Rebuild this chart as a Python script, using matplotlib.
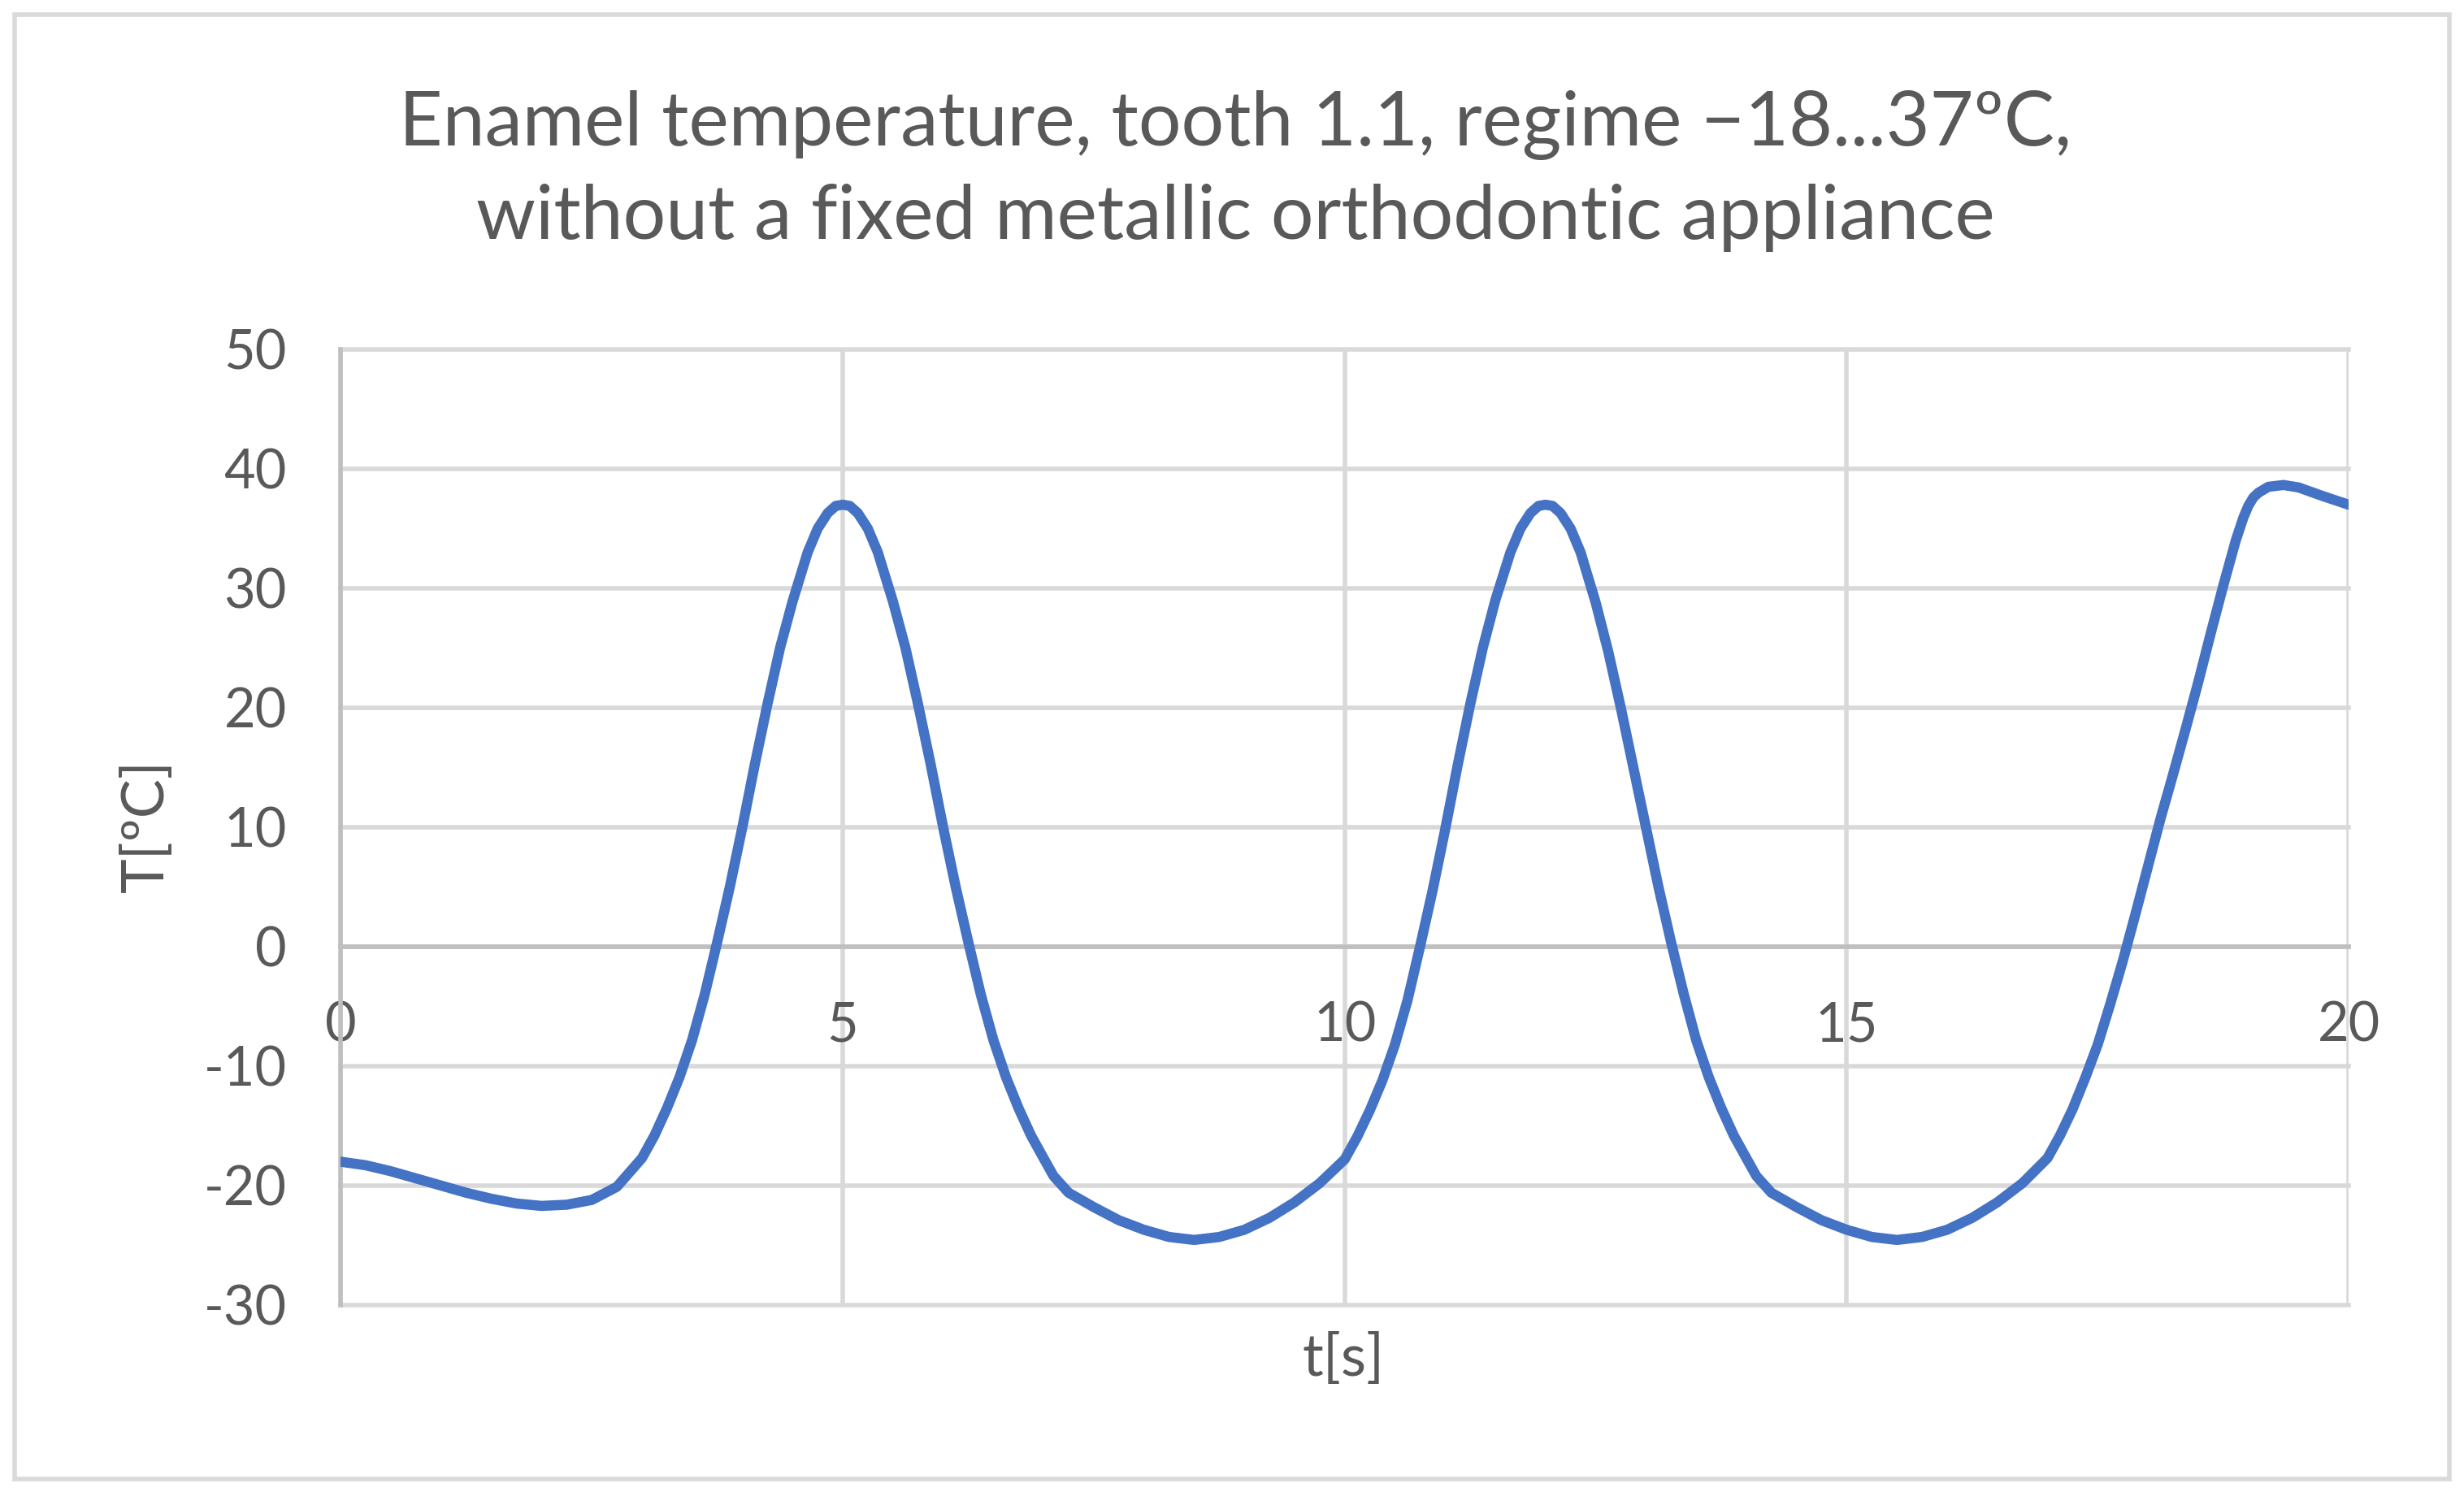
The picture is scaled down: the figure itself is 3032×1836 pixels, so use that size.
import matplotlib
matplotlib.use("Agg")
import matplotlib.pyplot as plt
from matplotlib.patches import Rectangle

plt.rcParams['font.family'] = ['Lato', 'DejaVu Sans']
plt.rcParams['axes.unicode_minus'] = False

# time [s] and enamel temperature [C]
t_s = [0.0, 0.25, 0.5, 0.75, 1.0, 1.25, 1.5, 1.75, 2.0, 2.25, 2.5, 2.75, 3.0,
       3.125, 3.25, 3.375, 3.5, 3.625, 3.75, 3.875, 4.0, 4.125, 4.25, 4.375,
       4.5, 4.65, 4.75, 4.85, 4.93, 5.0,
       5.07, 5.15, 5.25, 5.35, 5.5, 5.625, 5.75, 5.875, 6.0, 6.125, 6.25,
       6.375, 6.5, 6.625, 6.75, 6.875, 7.0,
       7.1, 7.25, 7.5, 7.75, 8.0, 8.25, 8.5, 8.75, 9.0, 9.25, 9.5, 9.75, 10.0,
       10.125, 10.25, 10.375, 10.5, 10.625, 10.75, 10.875, 11.0, 11.125, 11.25,
       11.375, 11.5, 11.65, 11.75, 11.85, 11.93, 12.0,
       12.07, 12.15, 12.25, 12.35, 12.5, 12.625, 12.75, 12.875, 13.0, 13.125,
       13.25, 13.375, 13.5, 13.625, 13.75, 13.875, 14.0,
       14.1, 14.25, 14.5, 14.75, 15.0, 15.25, 15.5, 15.75, 16.0, 16.25, 16.5,
       16.75, 17.0,
       17.125, 17.25, 17.375, 17.5, 17.625, 17.75, 17.875, 18.0, 18.125, 18.25,
       18.375, 18.5, 18.625, 18.75, 18.875, 18.95, 19.0, 19.05,
       19.1, 19.2, 19.35, 19.5, 19.75, 20.0]
temp_c = [-18.0, -18.3, -18.8, -19.4, -20.0, -20.6, -21.1, -21.5, -21.7, -21.6,
          -21.2, -20.1, -17.7,
          -15.8, -13.5, -10.9, -7.8, -4.0, 0.4, 5.0, 10.0, 15.3, 20.3, 25.0,
          28.9, 33.0, 35.0, 36.3, 36.9, 37.0,
          36.9, 36.3, 35.0, 33.0, 28.9, 25.0, 20.3, 15.3, 10.0, 5.0, 0.4,
          -4.0, -7.8, -10.9, -13.5, -15.8, -17.7,
          -19.2, -20.6, -21.8, -22.9, -23.7, -24.3, -24.55, -24.3, -23.7, -22.7,
          -21.4, -19.8, -17.8,
          -15.9, -13.7, -11.2, -8.2, -4.5, 0.0, 4.7, 9.8, 15.2, 20.3,
          25.0, 29.0, 33.0, 35.0, 36.3, 36.9, 37.0,
          36.9, 36.3, 35.0, 33.0, 28.8, 24.7, 20.0, 15.0, 10.0, 5.0,
          0.4, -3.9, -7.8, -10.9, -13.5, -15.8, -17.7,
          -19.2, -20.6, -21.8, -22.9, -23.7, -24.3, -24.55, -24.3, -23.7, -22.7,
          -21.4, -19.8, -17.7,
          -15.8, -13.6, -11.0, -8.2, -4.8, -1.2, 2.7, 6.7, 10.7, 14.4,
          18.2, 22.1, 26.2, 30.2, 34.0, 35.9, 36.9, 37.6,
          38.0, 38.5, 38.65, 38.45, 37.7, 37.0]

x_ticks = [0, 5, 10, 15, 20]
y_ticks = [-30, -20, -10, 0, 10, 20, 30, 40, 50]

title = ("Enamel temperature, tooth 1.1, regime \u221218...37\u00baC,\n"
         "without a fixed metallic orthodontic appliance")
text_col = '#595959'
grid_col = '#D9D9D9'
axis_col = '#BFBFBF'

fig = plt.figure(figsize=(30.32, 18.36), dpi=100)
ax = fig.add_axes([0.1383, 0.1253, 0.8149, 0.6405])

ax.plot(t_s, temp_c, color='#4472C4', lw=9,
        solid_capstyle='round', solid_joinstyle='round', zorder=3)

ax.set_xlim(0, 20)
ax.set_ylim(-30, 50)
ax.set_xticks(x_ticks)
ax.set_yticks(y_ticks)
ax.grid(True, color=grid_col, lw=4)
ax.set_axisbelow(True)
for gl in ax.get_xgridlines() + ax.get_ygridlines():
    gl.set_clip_on(False)

ax.spines['top'].set_visible(False)
ax.spines['right'].set_visible(False)
ax.spines['bottom'].set_position(('data', 0))
ax.spines['bottom'].set_color(axis_col)
ax.spines['bottom'].set_linewidth(4)
ax.spines['left'].set_color(axis_col)
ax.spines['left'].set_linewidth(4)
ax.tick_params(length=0, labelsize=48, labelcolor=text_col)
ax.tick_params(axis='x', pad=48)
ax.tick_params(axis='y', pad=48)

fig.text(0.5013, 0.8855, title, ha='center', va='center', fontsize=67,
         color=text_col, linespacing=1.42)
fig.text(0.0594, 0.4466, 'T[\u00baC]', rotation=90, ha='center', va='center',
         fontsize=52, color=text_col)
fig.text(0.5452, 0.0888, 't[s]', ha='center', va='center',
         fontsize=52, color=text_col)

# thin frame around the whole chart
fig.patches.append(Rectangle((18 / 3032, 16 / 1836), 1 - 36 / 3032, 1 - 34 / 1836,
                             transform=fig.transFigure, fill=False,
                             ec=grid_col, lw=4))

fig.savefig('out.png', dpi=100, facecolor='white')
